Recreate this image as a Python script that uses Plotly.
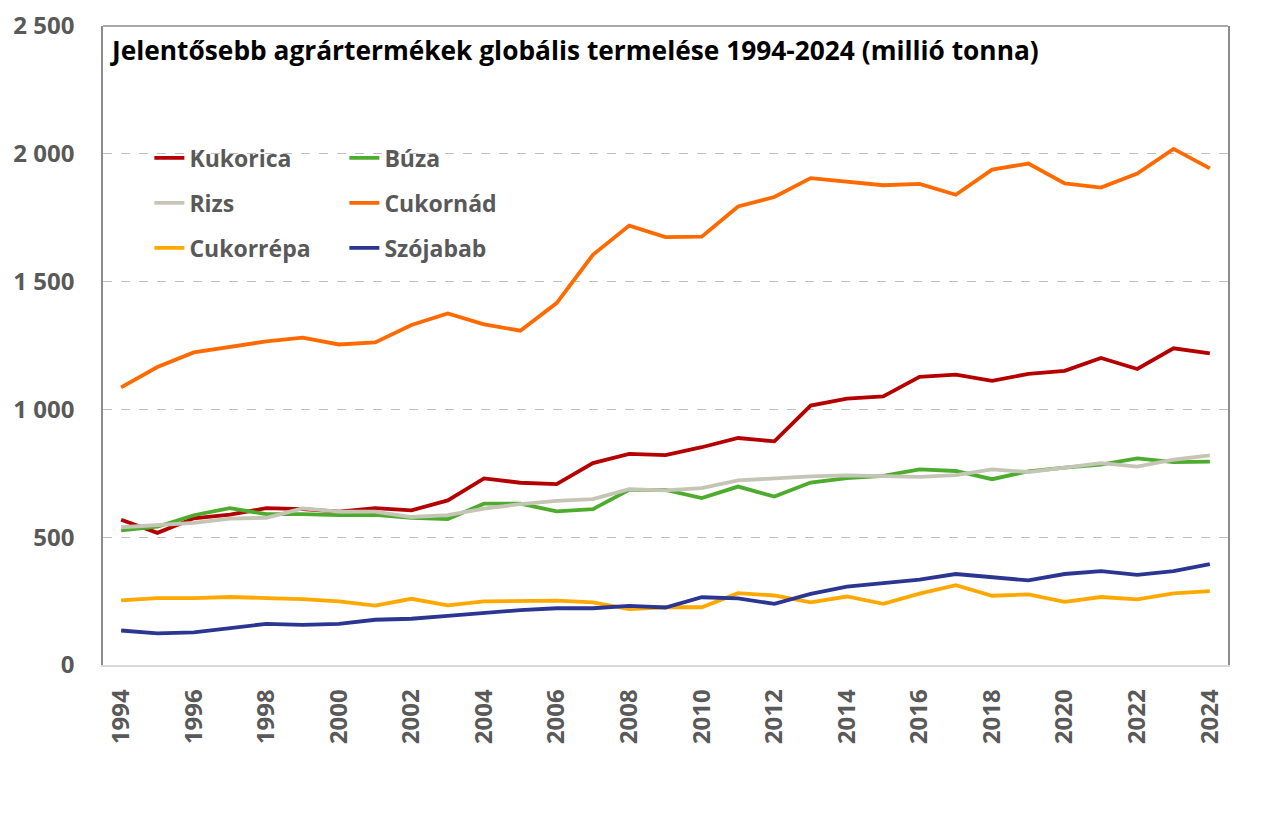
import plotly.graph_objects as go

years = list(range(1994, 2025))
tick_years = years[::2]

kukorica = [568, 517, 574, 588, 614, 610, 600, 614, 605, 644, 730,
            713, 708, 790, 826, 821, 852, 888, 875, 1015, 1042,
            1051, 1127, 1136, 1112, 1139, 1151, 1201, 1158, 1239, 1219]
buza = [527, 541, 586, 614, 590, 590, 586, 587, 576, 571, 631,
        631, 601, 610, 685, 685, 653, 698, 659, 714, 731,
        740, 765, 759, 727, 758, 772, 784, 808, 794, 796]
rizs = [539, 546, 556, 573, 576, 613, 600, 600, 579, 586, 612,
        629, 642, 649, 688, 683, 692, 722, 731, 738, 742,
        740, 736, 743, 765, 755, 772, 790, 776, 803, 820]
cukornad = [1086, 1166, 1223, 1246, 1266, 1281, 1254, 1262, 1330, 1375, 1333,
            1308, 1416, 1605, 1719, 1674, 1676, 1794, 1831, 1905, 1890,
            1877, 1882, 1840, 1938, 1962, 1884, 1868, 1923, 2019, 1943]
cukorrepa = [253, 262, 262, 266, 262, 258, 249, 232, 259, 233, 249,
             252, 252, 245, 219, 226, 226, 281, 272, 245, 268,
             239, 279, 312, 271, 276, 247, 266, 257, 280, 289]
szojabab = [135, 124, 128, 144, 161, 157, 161, 177, 181, 192, 205,
            215, 222, 222, 231, 225, 265, 261, 239, 278, 307,
            321, 334, 356, 345, 331, 356, 367, 353, 367, 395]

title_text = "Jelentősebb agrártermékek globális termelése 1994-2024 (millió tonna)"

series = [
    ("Kukorica", kukorica, "#B50000", "legend"),
    ("Búza", buza, "#4DAC2E", "legend"),
    ("Rizs", rizs, "#C4C5B5", "legend2"),
    ("Cukornád", cukornad, "#FF6A00", "legend2"),
    ("Cukorrépa", cukorrepa, "#FFA800", "legend3"),
    ("Szójabab", szojabab, "#2B3592", "legend3"),
]

FONT = "Open Sans"
GRAY = "#595959"

fig = go.Figure()
for name, vals, color, lg in series:
    fig.add_trace(go.Scatter(x=years, y=vals, name=name, mode="lines",
                             line=dict(color=color, width=3.8), legend=lg))

leg_common = dict(orientation="h", xanchor="left", yanchor="middle",
                  entrywidth=150, entrywidthmode="pixels", itemwidth=30,
                  bgcolor="rgba(0,0,0,0)", borderwidth=0,
                  font=dict(family=FONT, size=23, color=GRAY, weight="bold"),
                  tracegroupgap=0)

def ly(ypix):
    return (665 - ypix) / 639.0

lx = (155 - 103) / 1125.0 - 0.005

fig.update_layout(
    width=1282, height=837,
    margin=dict(l=103, r=54, t=26, b=172, autoexpand=False),
    paper_bgcolor="white", plot_bgcolor="white",
    separators=", ",
    showlegend=True,
    legend=dict(x=lx, y=ly(158), **leg_common),
    legend2=dict(x=lx, y=ly(203), **leg_common),
    legend3=dict(x=lx, y=ly(248), **leg_common),
    xaxis=dict(range=[1993.5, 2024.5], tickvals=tick_years, tickangle=-90,
               tickfont=dict(family=FONT, size=24, color=GRAY, weight="bold"),
               showgrid=False, zeroline=False, showline=True, linecolor="#d9d9d9",
               linewidth=1.5, ticks="outside", ticklen=13, tickcolor="rgba(0,0,0,0)",
               automargin=False),
    yaxis=dict(range=[0, 2500], dtick=500, tickformat=",",
               tickfont=dict(family=FONT, size=24, color=GRAY, weight="bold"),
               showgrid=True, gridcolor="#bfbfbf", griddash="dash", gridwidth=1,
               zeroline=False, showline=True, linecolor="#8c8c8c", linewidth=1.5,
               mirror=True, ticks="outside", ticklen=22, tickcolor="rgba(0,0,0,0)",
               automargin=False),
    annotations=[dict(text="<b>" + title_text + "</b>", xref="paper", yref="paper",
                      x=(108 - 103) / 1125.0, y=ly(50), xanchor="left", yanchor="middle",
                      showarrow=False,
                      font=dict(family=FONT, size=26.3, color="black"))],
    shapes=[dict(type="line", xref="paper", yref="paper", x0=0, x1=1, y0=1, y1=1,
                 line=dict(color="#8c8c8c", width=1.5))],
)

fig.write_html("out.html")
